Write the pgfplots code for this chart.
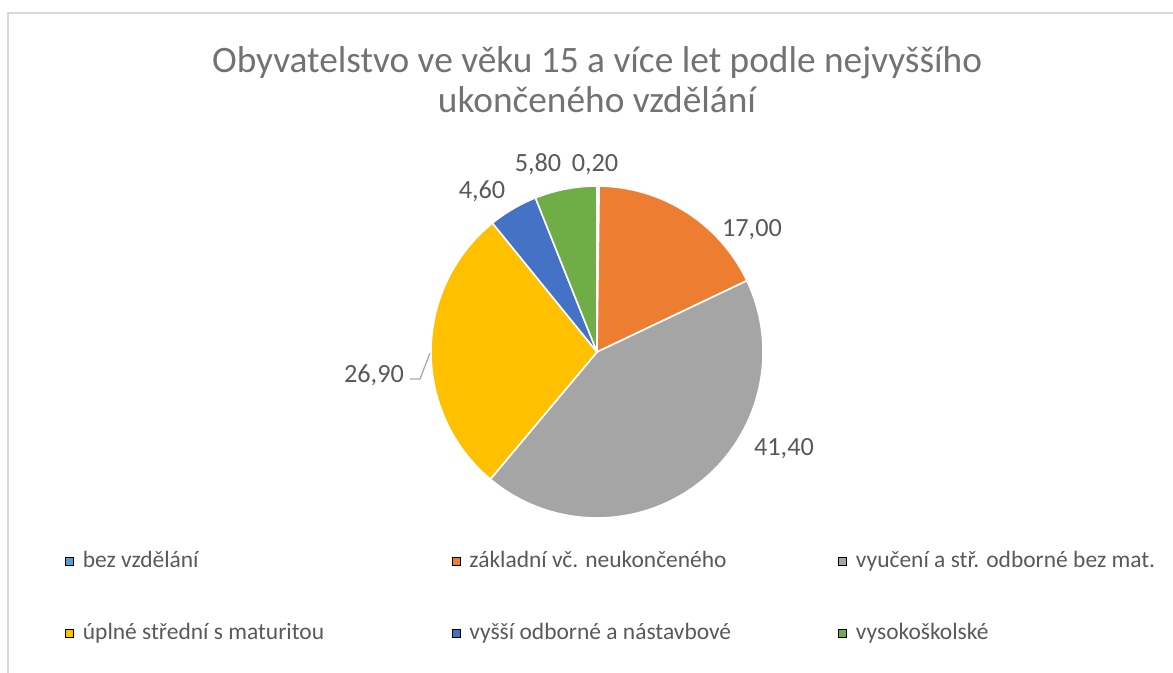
\documentclass[border=0pt]{standalone}
\usepackage{pgfplots}
\usepackage{pgfplotstable}
\usepackage{fontspec}
\pgfplotsset{compat=1.18}
\setmainfont{Carlito}

\definecolor{c0}{HTML}{5B9BD5}
\definecolor{c1}{HTML}{ED7D31}
\definecolor{c2}{HTML}{A5A5A5}
\definecolor{c3}{HTML}{FFC000}
\definecolor{c4}{HTML}{4472C4}
\definecolor{c5}{HTML}{70AD47}
\definecolor{txt}{HTML}{595959}
\definecolor{frame}{HTML}{D9D9D9}

% education level, share (%), data label position (px)
\pgfplotstableread[col sep=comma]{
name,value,lx,ly
bez vzdělání,0.20,595,163
základní vč. neukončeného,17.00,752,228
vyučení a stř. odborné bez mat.,41.40,784,447
úplné střední s maturitou,26.90,374,374
vyšší odborné a nástavbové,4.60,482,190
vysokoškolské,5.80,538,163
}\piedata

\begin{document}
\begin{tikzpicture}
\useasboundingbox (0,0) rectangle (879.75pt,504.75pt);
\pgfplotstablegetrowsof{\piedata}
\pgfmathtruncatemacro\lastrow{\pgfplotsretval-1}
% total of all shares
\def\total{0}
\pgfplotsforeachungrouped \i in {0,...,\lastrow}{%
  \pgfplotstablegetelem{\i}{value}\of{\piedata}%
  \pgfmathsetmacro\total{\total+\pgfplotsretval}%
}
% start/end angle of each slice, clockwise from the top
\def\cum{0}
\pgfplotsforeachungrouped \i in {0,...,\lastrow}{%
  \pgfplotstablegetelem{\i}{value}\of{\piedata}%
  \let\sval\pgfplotsretval
  \pgfmathsetmacro\angA{90-\cum/\total*360}%
  \pgfmathsetmacro\cum{\cum+\sval}%
  \pgfmathsetmacro\angB{90-\cum/\total*360}%
  \expandafter\xdef\csname sa\i\endcsname{\angA}%
  \expandafter\xdef\csname sb\i\endcsname{\angB}%
  \expandafter\xdef\csname sv\i\endcsname{\sval}%
  \pgfplotstablegetelem{\i}{lx}\of{\piedata}%
  \expandafter\xdef\csname lx\i\endcsname{\pgfplotsretval}%
  \pgfplotstablegetelem{\i}{ly}\of{\piedata}%
  \expandafter\xdef\csname ly\i\endcsname{\pgfplotsretval}%
  \pgfplotstablegetelem{\i}{name}\of{\piedata}%
  \expandafter\xdef\csname sn\i\endcsname{\pgfplotsretval}%
}
\begin{axis}[
  at={(0,0)}, anchor=south west,
  x=0.75pt, y=0.75pt, y dir=reverse,
  xmin=0, xmax=1173, ymin=0, ymax=673,
  hide axis, clip=false,
  legend columns=3,
  legend cell align=left,
  legend image code/.code={\fill[#1] (0pt,-3pt) rectangle (6pt,3pt);},
  legend style={
    at={(axis cs:65,550)}, anchor=north west,
    draw=none, fill=none, inner sep=0pt,
    column sep=0pt, row sep=37pt,
    nodes={inner sep=0pt, text height=13pt, text depth=4pt,
      font=\fontsize{17.6pt}{20pt}\selectfont, text=txt},
    /tikz/every odd column/.append style={column sep=6.8pt},
  },
]
\draw[frame, line width=1.2pt] (axis cs:8,673) -- (axis cs:8,13) -- (axis cs:1173,13);

\node[align=center, text=txt!85, font=\fontsize{28pt}{30pt}\selectfont]
  at (axis cs:597,80) {Obyvatelstvo ve věku 15 a více let podle nejvyššího\\ukončeného vzdělání};

\pgfplotsinvokeforeach{0,...,\lastrow}{
  \filldraw[fill=c#1, draw=white, line width=1.2pt, line join=round]
    (axis cs:597,352) -- ++(\csname sa#1\endcsname:124.5pt)
    arc[start angle=\csname sa#1\endcsname, end angle=\csname sb#1\endcsname, radius=124.5pt]
    -- cycle;
  \node[text=txt, inner sep=0pt, text height=12.5pt, text depth=0pt,
    font=\fontsize{19.7pt}{22pt}\selectfont]
    at (axis cs:\csname lx#1\endcsname,\csname ly#1\endcsname)
    {\pgfmathprintnumber[fixed, fixed zerofill, precision=2, use comma,
      assume math mode=true]{\csname sv#1\endcsname}};
  \addlegendimage{fill=c#1}
  \addlegendentry{\makebox[276.7pt][l]{\csname sn#1\endcsname}}
}
% leader line of the 26,90 label
\draw[gray!70, line width=0.9pt] (axis cs:410,379) -- (axis cs:420,379) -- (axis cs:430,353);
\end{axis}
\end{tikzpicture}
\end{document}
